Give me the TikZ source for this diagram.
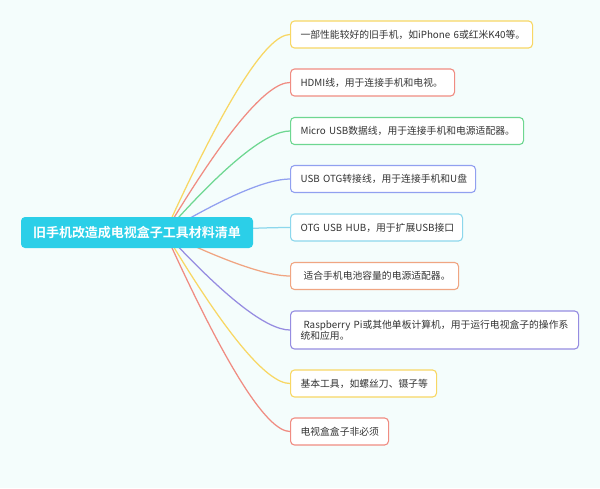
\documentclass[tikz,border=0pt]{standalone}
\usepackage{fontspec}
\setmainfont{Noto Sans CJK SC}[BoldFont={Noto Sans CJK SC Bold}]
\usetikzlibrary{calc}
\definecolor{bgc}{RGB}{244,253,252}
\definecolor{rootc}{RGB}{43,207,232}
\definecolor{txt}{RGB}{51,51,51}
\definecolor{cy}{RGB}{248,215,100}
\definecolor{cr}{RGB}{240,140,130}
\definecolor{cg}{RGB}{110,215,145}
\definecolor{cb}{RGB}{145,160,240}
\definecolor{cc}{RGB}{140,215,236}
\definecolor{co}{RGB}{240,165,130}
\definecolor{cp}{RGB}{150,140,225}
\pgfdeclarelayer{bg}
\pgfdeclarelayer{edges}
\pgfsetlayers{bg,edges,main}
\tikzset{
  rootbox/.style={fill=rootc, rounded corners=4pt, text=white,
    font=\bfseries\fontsize{13}{16}\selectfont, minimum width=232pt,
    minimum height=31pt, inner sep=0pt},
  item/.style={draw=#1, fill=white, rounded corners=4pt, line width=1.1pt,
    anchor=west, inner xsep=10pt, inner ysep=0pt, minimum height=27pt,
    align=left, font=\fontsize{9.8}{11}\selectfont, text=txt},
  edge/.style={line width=1.25pt}
}
\begin{document}
\begin{tikzpicture}[x=1pt,y=-1pt]
\begin{pgfonlayer}{bg}
\fill[bgc] (0,0) rectangle (600,488);
\end{pgfonlayer}
\useasboundingbox (0,0) rectangle (600,488);
\node[rootbox] (root) at (137,232.5) {旧手机改造成电视盒子工具材料清单};
\coordinate (hub) at (165,232.5);
\coordinate (qx) at (255,0);
\node[item=cy, text width=222pt] (b1) at (290,34.5) {\mbox{一部性能较好的旧手机，如iPhone 6或红米K40等。}};
\node[item=cr, text width=144pt] (b2) at (290,82.5) {\mbox{HDMI线，用于连接手机和电视。}};
\node[item=cg, text width=213pt] (b3) at (290,131) {\mbox{Micro USB数据线，用于连接手机和电源适配器。}};
\node[item=cb, text width=165pt] (b4) at (290,179) {\mbox{USB OTG转接线，用于连接手机和U盘}};
\node[item=cc, text width=152pt] (b5) at (290,227.5) {\mbox{OTG USB HUB，用于扩展USB接口}};
\node[item=co, text width=148pt] (b6) at (290,276) {\mbox{\hspace*{3pt}适合手机电池容量的电源适配器。}};
\node[item=cp, text width=268pt, minimum height=38pt] (b7) at (290,330) {\mbox{\hspace*{3pt}Raspberry Pi或其他单板计算机，用于运行电视盒子的操作系}\\\mbox{统和应用。}};
\node[item=cy, text width=126pt] (b8) at (290,383.5) {\mbox{基本工具，如螺丝刀、镊子等}};
\node[item=cr, text width=78pt] (b9) at (290,431.5) {\mbox{电视盒盒子非必须}};
\begin{pgfonlayer}{edges}
\foreach \b/\c in {b1/cy,b2/cr,b3/cg,b4/cb,b5/cc,b6/co,b7/cp,b8/cy,b9/cr}
  \draw[edge,\c] (hub) .. controls ($(hub)!0.6667!(qx |- \b.west)$) and ($(\b.west)+(-23.33,0)$) .. (\b.west);
\end{pgfonlayer}
\end{tikzpicture}
\end{document}
